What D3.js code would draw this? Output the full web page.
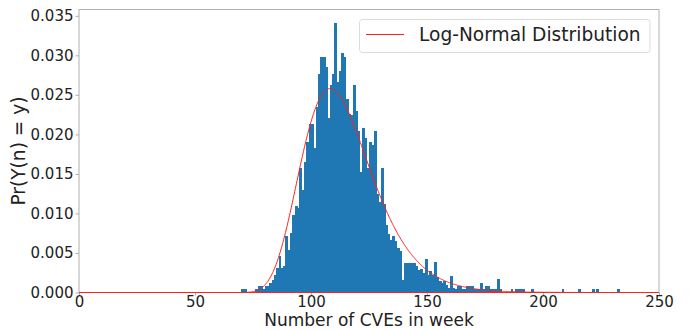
<!DOCTYPE html>
<html>
<head>
<meta charset="utf-8">
<script src="https://cdn.jsdelivr.net/npm/d3@7"></script>
<style>
  html, body { margin: 0; padding: 0; background: #fff; }
  svg { display: block; font-family: "DejaVu Sans", sans-serif; }
</style>
</head>
<body>
<svg id="chart" width="689" height="330"></svg>
<script>
// Weekly CVE counts: left edge of each unit-wide bin, from 70 up to 232
const binStart = 70;
const binWidth = 1;
// Normalised frequency of each bin (density), one entry per bin
const density = [
  0.0004, 0.0004, 0, 0, 0, 0, 0.0004, 0.0008, 0.0008, 0.0004,   // 70-79
  0.0008, 0.0008, 0.0012, 0.0016, 0.0022, 0.0031, 0.0046, 0.0031, 0.0033, 0.0072, // 80-89
  0.0054, 0.0075, 0.0098, 0.0110, 0.0107, 0.0157, 0.0130, 0.0165, 0.0190, 0.0213, // 90-99
  0.0213, 0.0183, 0.0235, 0.0277, 0.0298, 0.0298, 0.0285, 0.0221, 0.0262, 0.0277, // 100-109
  0.0341, 0.0266, 0.0280, 0.0303, 0.0298, 0.0245, 0.0226, 0.0225, 0.0263, 0.0229, // 110-119
  0.0204, 0.0153, 0.0208, 0.0195, 0.0158, 0.0191, 0.0187, 0.0204, 0.0125, 0.0114, // 120-129
  0.0157, 0.0112, 0.0085, 0.0074, 0.0067, 0.0071, 0.0065, 0.0056, 0.0052, 0.0016, // 130-139
  0.0037, 0.0037, 0.0037, 0.0037, 0.0037, 0.0034, 0.0029, 0.0030, 0.0025, 0.0043, // 140-149
  0.0022, 0.0027, 0.0022, 0.0039, 0.0019, 0.0014, 0.0012, 0.0014, 0.0010, 0.0006, // 150-159
  0.0021, 0.0006, 0.0005, 0.0008, 0.0008, 0.0004, 0.0004, 0.0008, 0.0008, 0.0008, // 160-169
  0.0004, 0.0004, 0.0004, 0.0012, 0.0004, 0.0008, 0.0008, 0.0004, 0.0004, 0.0004, // 170-179
  0.0017, 0.0004, 0, 0, 0, 0, 0.0004, 0, 0.0004, 0.0004,                          // 180-189
  0.0004, 0.0004, 0, 0, 0, 0.0004, 0, 0, 0, 0,                                     // 190-199
  0, 0, 0, 0, 0, 0, 0, 0, 0.0004, 0,                                               // 200-209
  0, 0, 0, 0, 0, 0.0004, 0, 0, 0, 0,                                               // 210-219
  0, 0.0004, 0, 0.0004, 0, 0, 0, 0, 0, 0,                                          // 220-229
  0, 0, 0.0004                                                                     // 230-232
];

// Fitted log-normal (shape, location, scale)
const lnShape = 0.2567;
const lnLoc = 50;
const lnScale = 62.25;

const xTicks = [0, 50, 100, 150, 200, 250];
const yTicks = [0, 0.005, 0.010, 0.015, 0.020, 0.025, 0.030, 0.035];
const xDomain = [0, 250];
const yDomain = [0, 0.0358];

const legendLabel = "Log-Normal Distribution";
const xLabel = "Number of CVEs in week";
const yLabel = "Pr(Y(n) = y)";

const bins = density.map((d, i) => ({ x0: binStart + i * binWidth, x1: binStart + (i + 1) * binWidth, p: d }));

function lognormPdf(v) {
  const y = v - lnLoc;
  if (y <= 0) return 0;
  const z = Math.log(y / lnScale) / lnShape;
  return Math.exp(-0.5 * z * z) / (y * lnShape * Math.sqrt(2 * Math.PI));
}

const svg = d3.select("#chart");
const m = { left: 79, right: 659, top: 9.5, bottom: 292.5 };

const x = d3.scaleLinear().domain(xDomain).range([m.left, m.right]);
const y = d3.scaleLinear().domain(yDomain).range([m.bottom, m.top]);

svg.append("defs").append("clipPath").attr("id", "plotClip")
  .append("rect")
  .attr("x", m.left).attr("y", m.top)
  .attr("width", m.right - m.left).attr("height", m.bottom - m.top);

// Histogram bars (slightly overlapped so neighbouring bars fuse without seams)
svg.append("g")
  .attr("shape-rendering", "crispEdges")
  .selectAll("rect")
  .data(bins.filter(b => b.p > 0))
  .join("rect")
  .attr("x", d => x(d.x0))
  .attr("width", d => x(d.x1) - x(d.x0) + 0.6)
  .attr("y", d => y(d.p))
  .attr("height", d => y(0) - y(d.p))
  .attr("fill", "#1f77b4");

// Density curve
const curvePts = d3.range(xDomain[0], xDomain[1] + 0.001, 0.25).map(v => [v, lognormPdf(v)]);
svg.append("path")
  .datum(curvePts)
  .attr("clip-path", "url(#plotClip)")
  .attr("fill", "none")
  .attr("stroke", "#ff2020")
  .attr("stroke-width", 1)
  .attr("d", d3.line().x(d => x(d[0])).y(d => y(d[1])));

// Axes
const axisColor = "#b0b0b0";
const gx = svg.append("g")
  .attr("transform", `translate(0,${m.bottom})`)
  .call(d3.axisBottom(x).tickValues(xTicks).tickFormat(d3.format("d")).tickSize(3).tickPadding(0.5));
const gy = svg.append("g")
  .attr("transform", `translate(${m.left},0)`)
  .call(d3.axisLeft(y).tickValues(yTicks).tickFormat(d3.format(".3f")).tickSize(3.5).tickPadding(2));

[gx, gy].forEach(g => {
  g.select(".domain").remove();
  g.selectAll(".tick line").attr("stroke", axisColor);
  g.selectAll(".tick text")
    .attr("fill", "#222")
    .attr("font-size", 15)
    .attr("font-family", "DejaVu Sans, sans-serif");
});

// Frame
svg.append("rect")
  .attr("x", m.left).attr("y", m.top)
  .attr("width", m.right - m.left).attr("height", m.bottom - m.top)
  .attr("fill", "none")
  .attr("stroke", axisColor)
  .attr("stroke-width", 1);

// Redraw the baseline part of the curve over the frame
svg.append("line")
  .attr("x1", x(xDomain[0])).attr("x2", x(xDomain[1]))
  .attr("y1", y(0)).attr("y2", y(0))
  .attr("stroke", "#ff2020").attr("stroke-width", 1);

// Axis labels
svg.append("text")
  .attr("x", (m.left + m.right) / 2)
  .attr("y", 325.9)
  .attr("text-anchor", "middle")
  .attr("font-size", 17)
  .attr("fill", "#222")
  .text(xLabel);

svg.append("text")
  .attr("transform", `translate(24.5,${(m.top + m.bottom) / 2}) rotate(-90)`)
  .attr("text-anchor", "middle")
  .attr("font-size", 18.6)
  .attr("fill", "#222")
  .text(yLabel);

// Legend
const lg = svg.append("g");
lg.append("rect")
  .attr("x", 359.5).attr("y", 19.5)
  .attr("width", 290.5).attr("height", 33)
  .attr("rx", 3)
  .attr("fill", "#fff")
  .attr("fill-opacity", 0.8)
  .attr("stroke", "#dcdcdc")
  .attr("stroke-width", 1);
lg.append("line")
  .attr("x1", 366).attr("x2", 404)
  .attr("y1", 34.5).attr("y2", 34.5)
  .attr("stroke", "#ff2020").attr("stroke-width", 1);
lg.append("text")
  .attr("x", 419)
  .attr("y", 41)
  .attr("font-size", 18.6)
  .attr("fill", "#222")
  .text(legendLabel);
</script>
</body>
</html>
